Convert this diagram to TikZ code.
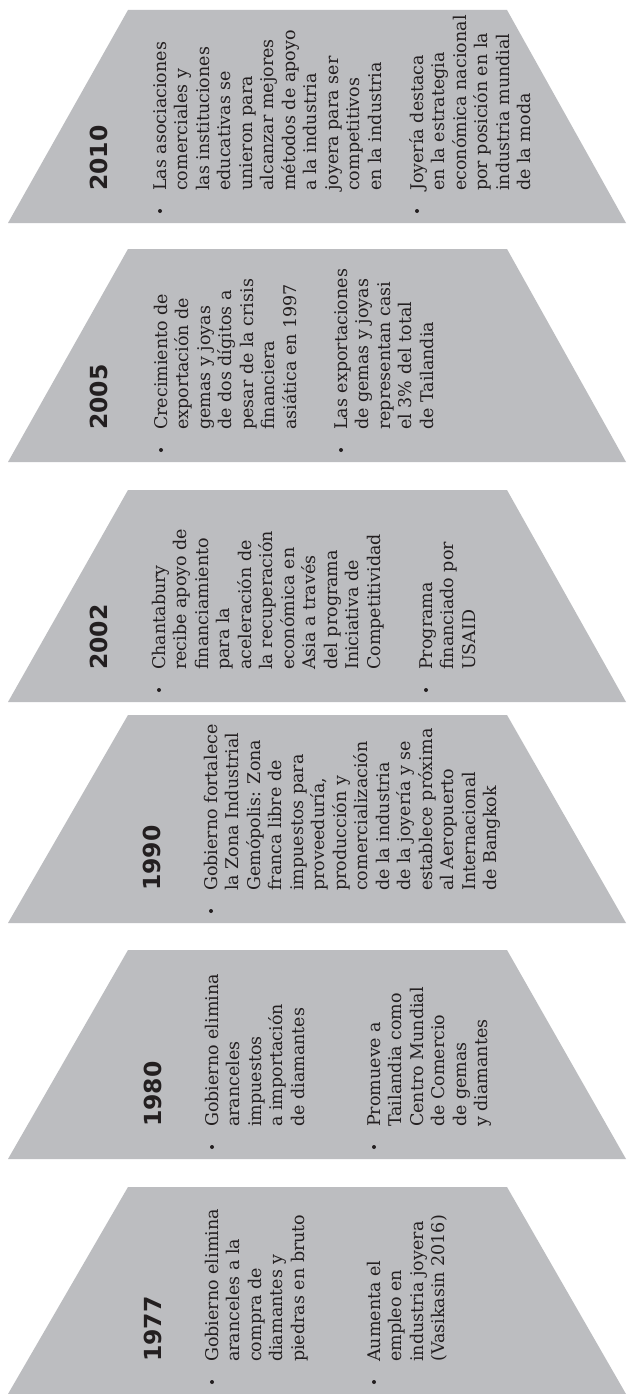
\documentclass[tikz,border=0pt]{standalone}
\usepackage{fontspec}
\setmainfont{DejaVu Serif}
\newfontfamily\yearfont{DejaVu Sans}
\definecolor{panelgray}{RGB}{188,189,192}
\definecolor{ink}{RGB}{35,31,32}
\tikzset{
  panel/.style={fill=panelgray, draw=none},
  yearlbl/.style={rotate=90, anchor=base west, inner sep=0pt, text=ink,
    font=\yearfont\bfseries\fontsize{23.5}{28}\selectfont},
  bodyline/.style={rotate=90, anchor=base west, inner sep=0pt, text=ink,
    font=\fontsize{17.5}{21.5}\selectfont},
  bulletdot/.style={circle, fill=ink, inner sep=0pt, minimum size=4pt},
}
\newcommand\itemlines[4]{%
  \foreach \txt [count=\i from 0] in {#4}{%
    \node[bodyline] (#1-\i) at ({#2+21.5*\i},#3) {\txt};}%
}
\newcommand\trap[2]{%
  \path[panel] (128,#1) -- (507,#1) -- (626,#2) -- (8,#2) -- cycle;%
}
\begin{document}
\begin{tikzpicture}[x=1pt,y=-1pt]
\useasboundingbox (0,0) rectangle (627,1394);
\fill[white] (0,0) rectangle (627,1394);
% panels
\trap{10}{223}
\trap{249}{462}
\trap{490}{702}
\trap{715}{923}
\trap{950}{1159}
\trap{1187}{1394}
% 2010
\node[yearlbl] (y2010) at (107,191) {2010};
\node[bulletdot] (b2010a) at (160,211) {};
\itemlines{t2010a}{166}{191}{Las asociaciones, comerciales y, las instituciones, educativas se, unieron para, alcanzar mejores, métodos de apoyo, a la industria, joyera para ser, competitivos, en la industria}
\node[bulletdot] (b2010b) at (417,211) {};
\itemlines{t2010b}{423}{191}{Joyería destaca, en la estrategia, económica nacional, por posición en la, industria mundial, de la moda}
% 2005
\node[yearlbl] (y2005) at (107,430) {2005};
\node[bulletdot] (b2005a) at (161,450) {};
\itemlines{t2005a}{167}{430}{Crecimiento de, exportación de, gemas y joyas, de dos dígitos a, pesar de la crisis, financiera, asiática en 1997}
\node[bulletdot] (b2005b) at (341,450) {};
\itemlines{t2005b}{347}{430}{Las exportaciones, de gemas y joyas, representan casi, el 3\% del total, de Tailandia}
% 2002
\node[yearlbl] (y2002) at (107,670) {2002};
\node[bulletdot] (b2002a) at (159,690) {};
\itemlines{t2002a}{165}{670}{Chantabury, recibe apoyo de, financiamiento, para la, aceleración de, la recuperación, económica en, Asia a través, del programa, Iniciativa de, Competitividad}
\node[bulletdot] (b2002b) at (426,690) {};
\itemlines{t2002b}{432}{670}{Programa, financiado por, USAID}
% 1990
\node[yearlbl] (y1990) at (160,891) {1990};
\node[bulletdot] (b1990a) at (211,911) {};
\itemlines{t1990a}{217}{891}{Gobierno fortalece, la Zona Industrial, Gemópolis: Zona, franca libre de, impuestos para, {proveeduría,}, producción y, comercialización, de la industria, de la joyería y se, establece próxima, al Aeropuerto, Internacional, de Bangkok}
% 1980
\node[yearlbl] (y1980) at (161,1127) {1980};
\node[bulletdot] (b1980a) at (212,1147) {};
\itemlines{t1980a}{218}{1127}{Gobierno elimina, aranceles, impuestos, a importación, de diamantes}
\node[bulletdot] (b1980b) at (374,1147) {};
\itemlines{t1980b}{380}{1127}{Promueve a, Tailandia como, Centro Mundial, de Comercio, de gemas, y diamantes}
% 1977
\node[yearlbl] (y1977) at (161,1362) {1977};
\node[bulletdot] (b1977a) at (212,1382) {};
\itemlines{t1977a}{218}{1362}{Gobierno elimina, aranceles a la, compra de, diamantes y, piedras en bruto}
\node[bulletdot] (b1977b) at (374,1382) {};
\itemlines{t1977b}{380}{1362}{Aumenta el, empleo en, industria joyera, (Vasikasin 2016)}
\end{tikzpicture}
\end{document}
